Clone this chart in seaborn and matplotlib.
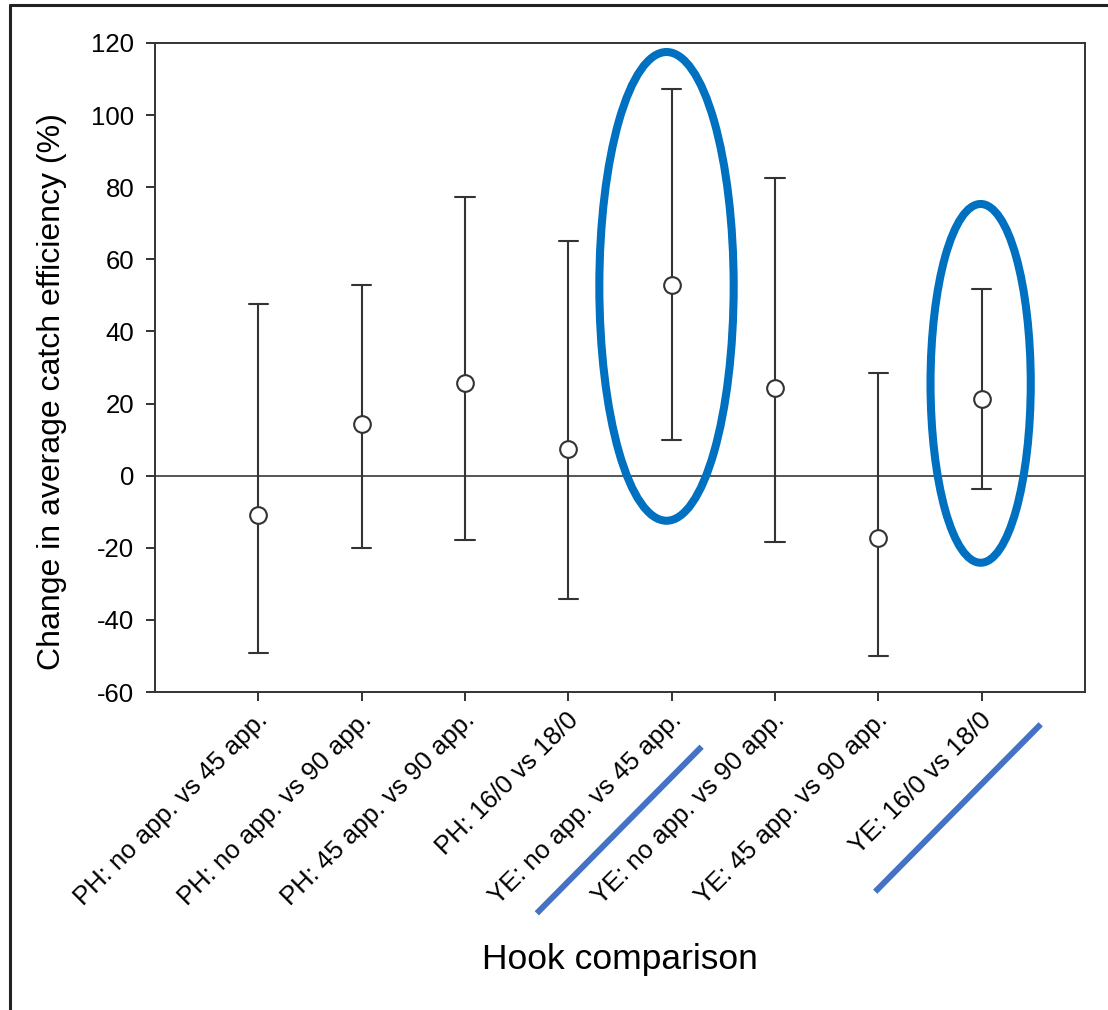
import numpy as np
import pandas as pd
import matplotlib
matplotlib.use("Agg")
import matplotlib.pyplot as plt
from matplotlib.patches import Ellipse
from matplotlib.lines import Line2D
import matplotlib.transforms as mtransforms
import seaborn as sns

# ---------------- data ----------------
comparisons = [
    "PH: no app. vs 45 app.",
    "PH: no app. vs 90 app.",
    "PH: 45 app. vs 90 app.",
    "PH: 16/0 vs 18/0",
    "YE: no app. vs 45 app.",
    "YE: no app. vs 90 app.",
    "YE: 45 app. vs 90 app.",
    "YE: 16/0 vs 18/0",
]
mean_change = [-11.0, 14.3, 25.7, 7.3, 53.0, 24.3, -17.3, 21.2]
lower_ci = [-49.3, -20.1, -17.9, -34.3, 9.9, -18.4, -50.0, -3.7]
upper_ci = [47.7, 53.0, 77.4, 65.0, 107.2, 82.5, 28.4, 51.8]
y_ticks = [-60, -40, -20, 0, 20, 40, 60, 80, 100, 120]

# highlighted comparisons (annotation ellipses): index, centre y, height, width
highlight_idx = [4, 7]
highlight_cx_shift = [-0.05, -0.01]
highlight_cy = [52.5, 25.6]
highlight_h = [130.0, 99.5]
highlight_w = [1.30, 0.97]

# long-form table: lower / mean / upper per comparison
df = pd.DataFrame({
    "comparison": np.repeat(comparisons, 3),
    "value": np.ravel(np.column_stack([lower_ci, mean_change, upper_ci])),
})

# ---------------- figure ----------------
sns.set_style("ticks")
plt.rcParams["font.family"] = ["Liberation Sans", "DejaVu Sans"]
plt.rcParams["text.color"] = "black"
plt.rcParams["axes.labelcolor"] = "black"

W, H = 1108, 1010
fig = plt.figure(figsize=(W / 100, H / 100), dpi=100)
ax = fig.add_axes([155 / W, 1 - 692 / H, (1085 - 155) / W, (692 - 43) / H])

dark = "#333333"
ax.axhline(0, color="#555555", lw=1.4, zorder=1)

sns.pointplot(
    data=df, x="comparison", y="value", order=comparisons,
    estimator="median", errorbar=("pi", 100), capsize=0.19,
    color=dark, markers="o", linestyle="none",
    markersize=12, markerfacecolor="white", markeredgecolor=dark,
    markeredgewidth=1.5, zorder=5,
    err_kws={"linewidth": 1.5, "color": dark, "zorder": 3},
    ax=ax,
)

ax.set_xlim(-1, 8)
ax.set_ylim(-60, 120)
ax.set_yticks(y_ticks)
ax.set_yticklabels([str(t) for t in y_ticks])

for s in ax.spines.values():
    s.set_visible(True)
    s.set_color(dark)
    s.set_linewidth(1.4)
ax.tick_params(axis="both", direction="out", length=6.5, width=1.4,
               color=dark, labelsize=18.5, labelcolor="black")
ax.tick_params(axis="y", pad=8.5)
ax.tick_params(axis="x", pad=11)

ax.set_xticks(range(len(comparisons)))
ax.set_xticklabels(comparisons, rotation=45, ha="right", va="center",
                   rotation_mode="anchor")
offset = mtransforms.ScaledTranslation(6 / 100, 0, fig.dpi_scale_trans)
for lab in ax.get_xticklabels():
    lab.set_transform(lab.get_transform() + offset)

ax.set_xlabel("Hook comparison", fontsize=25.5, color="black")
ax.xaxis.set_label_coords(0.5, (692 - 960) / 649)
ax.xaxis.label.set_va("center")
ax.set_ylabel("Change in average catch efficiency (%)", fontsize=23,
              color="black")
ax.yaxis.set_label_coords((52 - 155) / 930, (692 - 392) / 649)
ax.yaxis.label.set_va("center")

# annotation ellipses
for i, dx, cy, h, w in zip(highlight_idx, highlight_cx_shift, highlight_cy,
                           highlight_h, highlight_w):
    e = Ellipse((i + dx, cy), width=w, height=h, fill=False,
                edgecolor="#0070C0", linewidth=5.8, zorder=6, clip_on=False)
    ax.add_patch(e)

# annotation slashes under highlighted labels (figure pixel coords)
slashes = [((536.8, 913.3), (701.6, 746.7)), ((875.2, 891.7), (1040.7, 724.3))]
for (x0, y0), (x1, y1) in slashes:
    fig.add_artist(Line2D([x0 / W, x1 / W], [1 - y0 / H, 1 - y1 / H],
                          transform=fig.transFigure, color="#4472C4",
                          linewidth=4.3, solid_capstyle="butt"))

# outer frame (top and left edges)
fig.add_artist(Line2D([10 / W, 1.0], [1 - 5 / H, 1 - 5 / H],
                      transform=fig.transFigure, color="#222222", linewidth=2.2))
fig.add_artist(Line2D([10 / W, 10 / W], [0.0, 1 - 5 / H],
                      transform=fig.transFigure, color="#222222", linewidth=2.2))

fig.savefig("out.png", dpi=100, facecolor="white")
